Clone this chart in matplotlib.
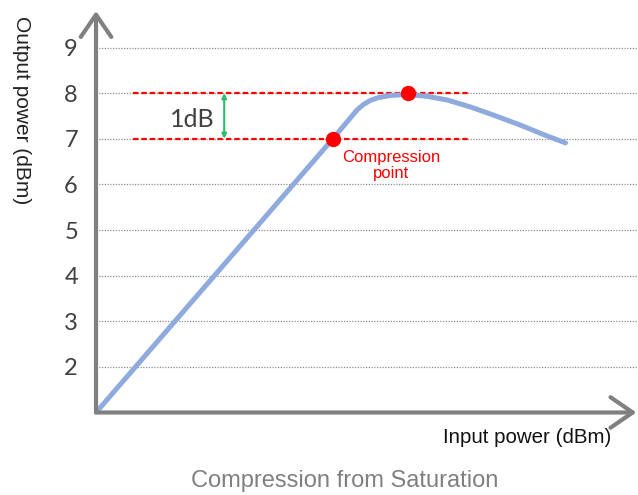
import numpy as np
import matplotlib
matplotlib.use("Agg")
import matplotlib.pyplot as plt

# curve (input power, output power)
in_power = [0, 5.20, 5.72, 5.86, 6.01, 6.18, 6.45, 6.84, 7.26, 7.70, 8.20, 8.71, 9.30, 9.89, 10.29]
out_power = [1, 7.01, 7.63, 7.75, 7.84, 7.90, 7.95, 7.97, 7.93, 7.85, 7.70, 7.52, 7.30, 7.06, 6.91]

compression_pt = (5.20, 7.0)
saturation_pt = (6.84, 8.0)
ref_levels = [8, 7]
ref_span = (0.81, 8.17)
y_ticks = [2, 3, 4, 5, 6, 7, 8, 9]

fig = plt.figure(figsize=(6.38, 4.95), dpi=100)
ax = fig.add_axes([0.1505, 0.1667, 0.8495, 0.811])
ax.set_xlim(0, 11.88)
ax.set_ylim(1, 9.80)

for s in ax.spines.values():
    s.set_visible(False)
ax.set_xticks([])
ax.set_yticks(y_ticks)
ax.tick_params(axis="y", length=0, pad=13, labelsize=17, labelcolor="#404040")
for lab in ax.get_yticklabels():
    lab.set_fontfamily("Lato")

# dotted horizontal grid
for y in y_ticks:
    ax.axhline(y, color="#8c8c8c", lw=0.9, ls=(0, (1, 1.2)), zorder=1)

# red reference lines at 8 and 7
for lvl in ref_levels:
    ax.plot(ref_span, [lvl, lvl], color="#ff0000", lw=1.6, ls=(0, (2.4, 1.4)), zorder=2)

ax.plot(in_power, out_power, color="#8faadc", lw=3.6, solid_capstyle="round",
        solid_joinstyle="round", zorder=3)

ax.plot(*compression_pt, "o", color="#ff0000", ms=10, zorder=4)
ax.plot(*saturation_pt, "o", color="#ff0000", ms=10, zorder=4)

# 1dB arrow
ax.annotate("", xy=(2.81, 8.0), xytext=(2.81, 7.0),
            arrowprops=dict(arrowstyle="<|-|>", color="#2dbe6c", lw=1.5,
                            mutation_scale=7, shrinkA=0, shrinkB=0), zorder=4)
ax.text(2.12, 7.42, "1dB", fontsize=18, family="Lato", color="#404040",
        ha="center", va="center")
ax.text(6.47, 6.42, "Compression\npoint", fontsize=12, family="Liberation Sans",
        color="#ff0000", ha="center", va="center", linespacing=1.05)

# axis arrows
arrow_kw = dict(arrowstyle="->,head_length=0.8,head_width=0.55", color="#808080",
                lw=3, mutation_scale=20, shrinkA=0, shrinkB=0)
ax.annotate("", xy=(0, 1.0), xytext=(0, 0), xycoords="axes fraction",
            arrowprops=arrow_kw, annotation_clip=False)
ax.annotate("", xy=(0.997, 0), xytext=(0, 0), xycoords="axes fraction",
            arrowprops=arrow_kw, annotation_clip=False)

fig.text(0.034, 0.778, "Output power (dBm)", rotation=270, fontsize=15,
         family="Liberation Sans", color="#222222", ha="center", va="center")
fig.text(0.826, 0.117, "Input power (dBm)", fontsize=14.8,
         family="Liberation Sans", color="#111111", ha="center", va="center")
fig.text(0.541, 0.028, "Compression from Saturation", fontsize=17,
         family="Liberation Sans", color="#808080", ha="center", va="center")

fig.savefig("out.png", dpi=100)
